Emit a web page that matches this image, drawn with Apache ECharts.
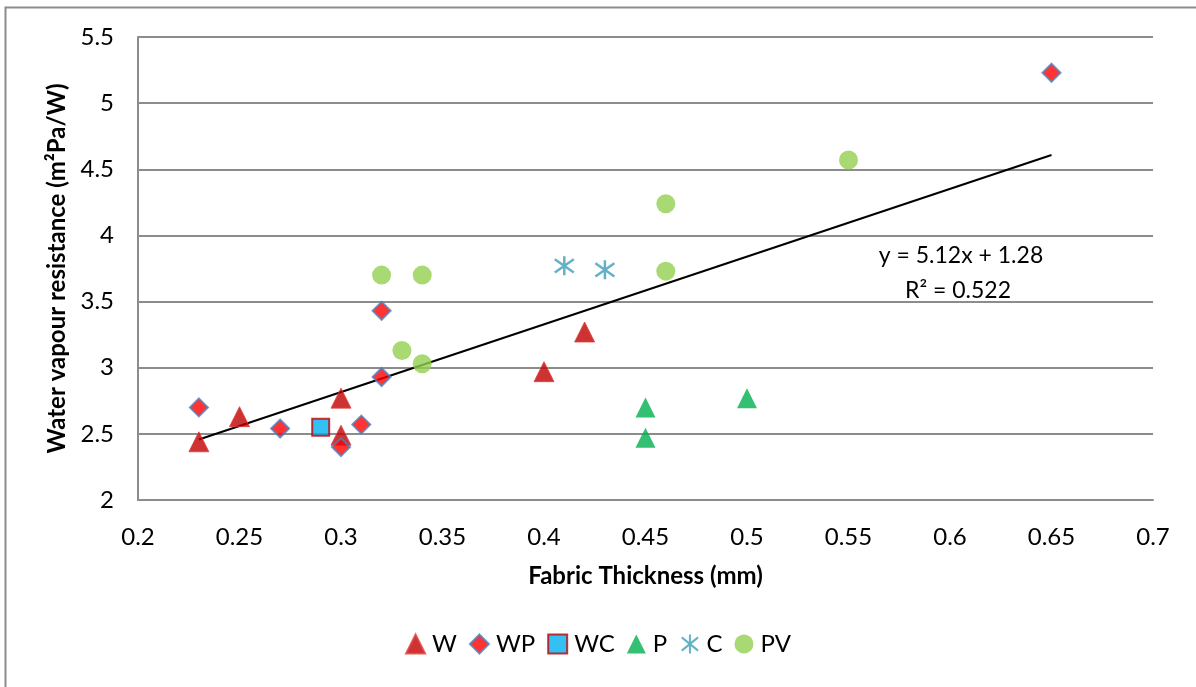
<!DOCTYPE html>
<html>
<head>
<meta charset="utf-8">
<script src="https://cdn.jsdelivr.net/npm/echarts@6/dist/echarts.min.js"></script>
<style>
  html, body { margin: 0; padding: 0; background: #fff; }
  #main { width: 1196px; height: 687px; }
</style>
</head>
<body>
<div id="main"></div>
<script>
// data: [thickness mm, resistance m2Pa/W]
var wData = [[0.23, 2.44], [0.25, 2.63], [0.30, 2.77], [0.30, 2.49], [0.40, 2.97], [0.42, 3.27]];
var wpData = [[0.23, 2.70], [0.27, 2.54], [0.30, 2.40], [0.31, 2.57], [0.32, 2.93], [0.32, 3.43], [0.65, 5.23]];
var wcData = [[0.29, 2.55]];
var pData = [[0.45, 2.70], [0.45, 2.47], [0.50, 2.77]];
var cData = [[0.41, 3.77], [0.43, 3.74]];
var pvData = [[0.32, 3.70], [0.34, 3.70], [0.33, 3.13], [0.34, 3.03], [0.46, 4.24], [0.46, 3.73], [0.55, 4.57]];

// linear trend shown on chart
var slope = 5.12, intercept = 1.28;
var trendX = [0.23, 0.65];
var trendData = trendX.map(function (x) { return [x, slope * x + intercept]; });

var font = 'Lato, "Open Sans", sans-serif';
var asterisk = 'path://M5,0 L5,10 M0.7,1.5 L9.3,8.5 M0.7,8.5 L9.3,1.5';

var chart = echarts.init(document.getElementById('main'));

var option = {
  animation: false,
  backgroundColor: '#fff',
  textStyle: { fontFamily: font },
  graphic: [{
    type: 'rect',
    shape: { x: 5.5, y: 7.5, width: 1300, height: 800 },
    style: { fill: 'none', stroke: '#8c8c8c', lineWidth: 2 },
    silent: true
  }, {
    type: 'text',
    x: 961, y: 256,
    style: { text: 'y = 5.12x + 1.28', fontSize: 23, fontFamily: font, fill: '#000', align: 'center', verticalAlign: 'middle' }
  }, {
    type: 'text',
    x: 958, y: 291,
    style: { text: 'R² = 0.522', fontSize: 23, fontFamily: font, fill: '#000', align: 'center', verticalAlign: 'middle' }
  }],
  grid: { left: 138, right: 43, top: 37, bottom: 187 },
  legend: {
    bottom: 26,
    left: 'center',
    itemWidth: 19,
    itemHeight: 19,
    itemGap: 12,
    textStyle: { fontSize: 24, color: '#000', fontFamily: font, padding: [0, 0, 0, 2] },
    data: ['W', 'WP', 'WC', 'P', 'C', 'PV']
  },
  xAxis: {
    type: 'value',
    min: 0.2, max: 0.7, interval: 0.05,
    name: 'Fabric Thickness (mm)',
    nameLocation: 'middle',
    nameGap: 64,
    nameTextStyle: { fontSize: 24, fontWeight: 'bold', color: '#000', fontFamily: font },
    axisLine: { lineStyle: { color: '#8c8c8c', width: 2 } },
    axisTick: { show: false },
    splitLine: { show: false },
    axisLabel: {
      fontSize: 24, color: '#000', margin: 25,
      formatter: function (v) { return String(parseFloat(v.toFixed(2))); }
    }
  },
  yAxis: {
    type: 'value',
    min: 2, max: 5.5, interval: 0.5,
    name: 'Water vapour resistance (m²Pa/W)',
    nameLocation: 'middle',
    nameGap: 68,
    nameTextStyle: { fontSize: 24, fontWeight: 'bold', color: '#000', fontFamily: font },
    axisLine: { show: true, lineStyle: { color: '#8c8c8c', width: 2 } },
    axisTick: { show: false },
    splitLine: { lineStyle: { color: '#8c8c8c', width: 2 } },
    axisLabel: { fontSize: 24, color: '#000', margin: 24 }
  },
  series: [{
    name: 'W', type: 'scatter', symbol: 'triangle', symbolSize: 20,
    itemStyle: { color: '#c00000', borderColor: '#e04040', borderWidth: 1 },
    data: wData
  }, {
    name: 'WP', type: 'scatter', symbol: 'diamond', symbolSize: 18,
    itemStyle: { color: '#ff0000', borderColor: '#4f81bd', borderWidth: 2 },
    data: wpData
  }, {
    name: 'WC', type: 'scatter', symbol: 'rect', symbolSize: 17,
    itemStyle: { color: '#00b0f0', borderColor: '#c00000', borderWidth: 2 },
    data: wcData
  }, {
    name: 'P', type: 'scatter', symbol: 'triangle', symbolSize: 20,
    itemStyle: { color: '#00b050' },
    data: pData
  }, {
    name: 'C', type: 'scatter', symbol: asterisk, symbolSize: 19,
    itemStyle: { color: 'none', borderColor: '#3d9db8', borderWidth: 2.5 },
    data: cData
  }, {
    name: 'PV', type: 'scatter', symbol: 'circle', symbolSize: 19,
    itemStyle: { color: '#92d050' },
    data: pvData
  }, {
    name: 'trend', type: 'line', showSymbol: false, symbol: 'none',
    lineStyle: { color: '#000', width: 2 },
    silent: true, z: 1,
    data: trendData
  }]
};

chart.setOption(option);
</script>
</body>
</html>
